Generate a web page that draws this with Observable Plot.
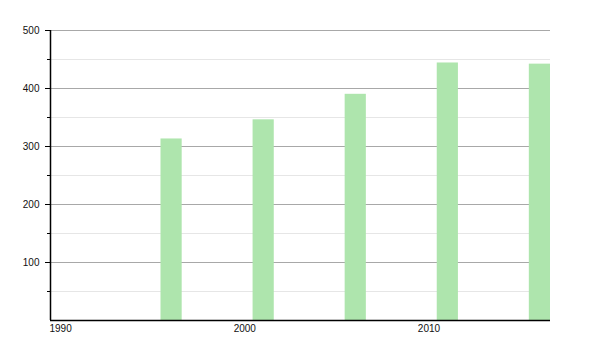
<!DOCTYPE html>
<html>
<head>
<meta charset="utf-8">
<script src="https://cdn.jsdelivr.net/npm/d3@7"></script>
<script src="https://cdn.jsdelivr.net/npm/@observablehq/plot@0.6"></script>
<style>
  html, body { margin: 0; padding: 0; background: #fff; }
  #chart svg { display: block; }
</style>
</head>
<body>
<div id="chart"></div>
<script>
const years = [1996, 2001, 2006, 2011, 2016];
const population = [313, 346, 390, 444, 442];
const xTicks = [1990, 2000, 2010];
const yMajorTicks = [100, 200, 300, 400, 500];
const yMinorTicks = [50, 150, 250, 350, 450];

const data = years.map((y, i) => ({year: y, value: population[i]}));
const barWidthYears = 1.15;

const chart = Plot.plot({
  width: 600,
  height: 350,
  marginLeft: 50,
  marginRight: 50,
  marginTop: 30,
  marginBottom: 30,
  style: {fontFamily: "'Liberation Sans', Arial, sans-serif", fontSize: "10px", color: "#111", background: "#fff"},
  x: {domain: [1990, 2017.15], label: null},
  y: {domain: [0, 500], label: null},
  marks: [
    Plot.ruleY(yMinorTicks, {stroke: "#e6e6e6", strokeWidth: 1}),
    Plot.ruleY(yMajorTicks, {stroke: "#a8a8a8", strokeWidth: 1}),
    Plot.rectY(data, {x1: d => d.year, x2: d => d.year + barWidthYears, y1: 0, y2: "value", fill: "#aee5ad"}),
    Plot.axisY(yMajorTicks, {tickSize: 5, tickPadding: 6, tickFormat: d => String(d), stroke: "#000"}),
    Plot.axisY(yMinorTicks, {tickSize: 3, tickFormat: () => "", stroke: "#000"}),
    Plot.axisX(xTicks, {tickSize: 0, tickPadding: 4, textAnchor: "start", dx: -1, tickFormat: d => String(d)}),
    Plot.ruleX([1990], {stroke: "#000", strokeWidth: 1.5}),
    Plot.ruleY([0], {stroke: "#000", strokeWidth: 1.5})
  ]
});
document.getElementById("chart").appendChild(chart);
</script>
</body>
</html>
